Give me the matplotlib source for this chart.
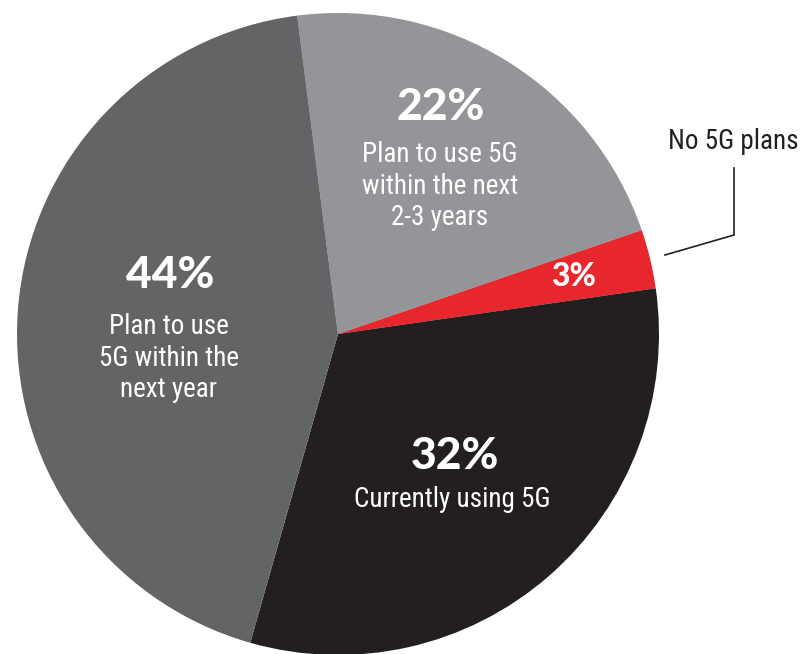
import matplotlib
matplotlib.use("Agg")
import matplotlib.pyplot as plt

# Data
categories = ["Plan to use 5G within the next 2-3 years", "No 5G plans",
              "Currently using 5G", "Plan to use 5G within the next year"]
values = [22, 3, 32, 44]
pct_labels = ["22%", "3%", "32%", "44%"]
colors = ["#939598", "#E8262D", "#231F20", "#636466"]

W, H = 807, 654
fig = plt.figure(figsize=(W / 100, H / 100), dpi=100)
ax = fig.add_axes([0, 0, 1, 1])

def py(y):
    return H - y

ax.pie(values, colors=colors, startangle=97.3, counterclock=False,
       center=(338, py(334)), radius=321, frame=True,
       wedgeprops=dict(linewidth=0))
ax.set_xlim(0, W)
ax.set_ylim(0, H)
ax.set_aspect("equal")
ax.axis("off")

narrow = ["Liberation Sans Narrow", "Roboto Condensed", "Roboto"]
bold = ["Lato", "DejaVu Sans"]

def pct(x, y, s, size):
    ax.text(x, py(y), s, ha="center", va="center", color="white",
            fontsize=size, fontweight="black", family=bold)

def desc(x, y, s):
    ax.text(x, py(y), s, ha="center", va="top", color="white",
            fontsize=19.5, family=narrow, linespacing=1.22)

pct(441, 107, pct_labels[0], 32)
desc(440, 141, "Plan to use 5G\nwithin the next\n2-3 years")

pct(574, 277, pct_labels[1], 23)

pct(455, 456, pct_labels[2], 32)
desc(452, 486, "Currently using 5G")

pct(170, 275, pct_labels[3], 32)
desc(169, 313, "Plan to use\n5G within the\nnext year")

# Callout for "No 5G plans"
ax.plot([665, 734, 734], [py(255), py(235), py(168)], color="#231F20", lw=1.2,
        solid_joinstyle="miter")
ax.text(733, py(149), "No 5G plans", ha="center", va="baseline", color="#231F20",
        fontsize=19.5, family=narrow)

fig.savefig("out.png", dpi=100)
